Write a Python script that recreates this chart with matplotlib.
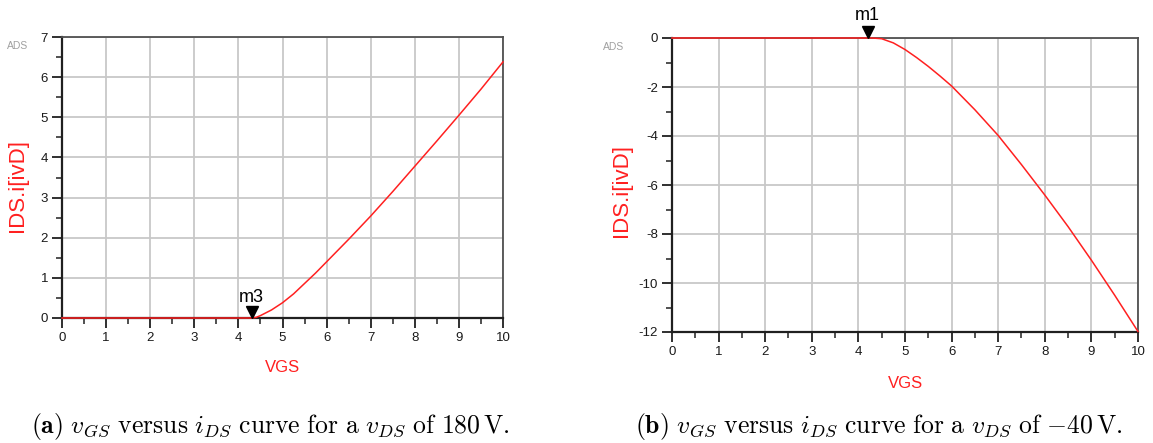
import matplotlib
matplotlib.use("Agg")
import matplotlib.pyplot as plt
import matplotlib.transforms as mtransforms
from matplotlib.ticker import MultipleLocator

plt.rcParams['font.family'] = ['Liberation Sans', 'DejaVu Sans']
plt.rcParams['axes.unicode_minus'] = False
plt.rcParams['mathtext.fontset'] = 'cm'

# ---- data ----
vgs_a = [0, 4.3, 4.4, 4.5, 4.75, 5, 5.25, 5.5, 5.75, 6, 6.5, 7, 7.5, 8, 8.5, 9, 9.5, 10]
ids_a = [0, 0, 0.015, 0.06, 0.2, 0.38, 0.6, 0.86, 1.12, 1.4, 1.96, 2.54, 3.15, 3.78, 4.41, 5.05, 5.7, 6.38]
marker_a = (4.3, 0.0, "m3")

vgs_b = [0, 4.3, 4.5, 4.75, 5, 5.25, 5.5, 5.75, 6, 6.5, 7, 7.5, 8, 8.5, 9, 9.5, 10]
ids_b = [0, 0, -0.03, -0.2, -0.47, -0.8, -1.16, -1.55, -1.96, -2.93, -3.98, -5.17, -6.41, -7.7, -9.07, -10.5, -11.98]
marker_b = (4.2, 0.0, "m1")

x_ticks = list(range(0, 11))
ylim_a = (0, 7)
ylim_b = (-12, 0)

xlabel = "VGS"
ylabel = "IDS.i[ivD]"
caption_a = (r"$\mathbf{(a)}\ v_{GS}\ \mathrm{versus}\ i_{DS}\ \mathrm{curve\ for\ a}\ "
             r"v_{DS}\ \mathrm{of}\ 180\,\mathrm{V.}$")
caption_b = (r"$\mathbf{(b)}\ v_{GS}\ \mathrm{versus}\ i_{DS}\ \mathrm{curve\ for\ a}\ "
             r"v_{DS}\ \mathrm{of}\ {-}40\,\mathrm{V.}$")

W, H = 1153, 443
fig = plt.figure(figsize=(W / 100, H / 100), dpi=100)

def px_axes(x0, y0, x1, y1):
    return fig.add_axes([x0 / W, 1 - y1 / H, (x1 - x0) / W, (y1 - y0) / H])

def style(ax, ylim, ymajor, yminor):
    ax.set_xlim(0, 10)
    ax.set_ylim(*ylim)
    ax.set_xticks(x_ticks)
    ax.xaxis.set_minor_locator(MultipleLocator(0.5))
    ax.yaxis.set_major_locator(MultipleLocator(ymajor))
    ax.yaxis.set_minor_locator(MultipleLocator(yminor))
    ax.grid(True, which='major', color='#c8c8c8', linewidth=1.3)
    ax.set_axisbelow(True)
    for s in ['left', 'bottom']:
        ax.spines[s].set_color('#202020')
        ax.spines[s].set_linewidth(1.6)
    for s in ['top', 'right']:
        ax.spines[s].set_color('#505050')
        ax.spines[s].set_linewidth(1.3)
    ax.tick_params(which='major', direction='out', length=7, width=1.3,
                   color='#202020', labelsize=9.5, labelcolor='#1a1a1a', pad=3)
    ax.tick_params(which='minor', direction='out', length=4.5, width=1.1,
                   color='#202020')

def draw_marker(ax, m, dy_tri, dy_lab):
    x, y, lab = m
    off = mtransforms.ScaledTranslation(0, dy_tri / 100, fig.dpi_scale_trans)
    ax.plot([x], [y], marker='v', color='black', markersize=9, linestyle='none',
            transform=ax.transData + off, clip_on=False, zorder=6)
    ax.annotate(lab, xy=(x, y), xytext=(0, dy_lab), textcoords='offset pixels',
                ha='center', va='center', fontsize=13, color='black',
                annotation_clip=False)

# ---- left plot ----
ax1 = px_axes(62, 37, 503, 318)
style(ax1, ylim_a, 1, 0.5)
ax1.plot(vgs_a, ids_a, color='#ff2020', linewidth=1.1, clip_on=False, zorder=5)
draw_marker(ax1, marker_a, 6, 21)
fig.text(282 / W, 1 - 368 / H, xlabel, color='#ff2020', fontsize=12, ha='center', va='center')
fig.text(18 / W, 1 - 185 / H, ylabel, color='#ff2020', fontsize=16, ha='center', va='center', rotation=90)
fig.text(18 / W, 1 - 46 / H, "ADS", color='#a0a0a0', fontsize=7.5, ha='center', va='center')

# ---- right plot ----
ax2 = px_axes(672, 38, 1138, 332)
style(ax2, ylim_b, 2, 1)
ax2.plot(vgs_b, ids_b, color='#ff2020', linewidth=1.1, clip_on=False, zorder=5)
draw_marker(ax2, marker_b, 6, 22)
fig.text(905 / W, 1 - 384 / H, xlabel, color='#ff2020', fontsize=12, ha='center', va='center')
fig.text(622 / W, 1 - 190 / H, ylabel, color='#ff2020', fontsize=16, ha='center', va='center', rotation=90)
fig.text(614 / W, 1 - 47 / H, "ADS", color='#a0a0a0', fontsize=7.5, ha='center', va='center')

# ---- captions ----
fig.text(270 / W, 1 - 427 / H, caption_a, fontsize=18.5, ha='center', va='center')
fig.text(879 / W, 1 - 427 / H, caption_b, fontsize=18.5, ha='center', va='center')

fig.savefig("out.png", dpi=100)
